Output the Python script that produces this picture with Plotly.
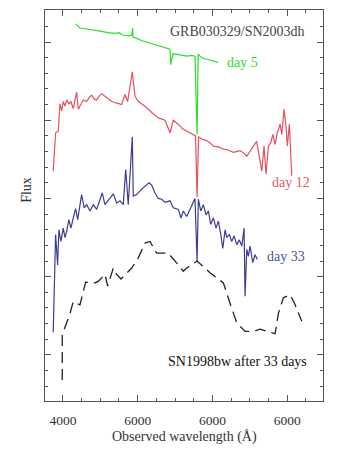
import plotly.graph_objects as go

# Wavelength (Angstrom) and relative flux (arbitrary offset units)
day5_wl = [4174, 4200, 4228, 4300, 4350, 4400, 4495, 4550, 4600, 4700, 4750, 4800, 4897, 4920, 4933, 4937,
           4980, 5050, 5125, 5200, 5299, 5380, 5433, 5442, 5460, 5473, 5550, 5600, 5660, 5720, 5767, 5795,
           5810, 5834, 5880, 5928, 6000, 6075]
day5_fx = [4.23, 4.20, 4.18, 4.17, 4.16, 4.15, 4.14, 4.13, 4.12, 4.11, 4.12, 4.09, 4.08, 4.09, 4.18, 4.06,
           4.05, 4.02, 4.00, 3.98, 3.95, 3.93, 3.91, 3.71, 3.80, 3.85, 3.84, 3.83, 3.82, 3.83, 3.82, 2.82,
           3.85, 3.82, 3.79, 3.78, 3.76, 3.74]

day12_wl = [3870, 3902, 3937, 3960, 3983, 4004, 4027, 4050, 4080, 4107, 4138, 4183, 4205, 4240, 4272, 4317,
            4350, 4384, 4420, 4451, 4485, 4518, 4562, 4600, 4652, 4720, 4786, 4830, 4866, 4928, 4964, 5008,
            5098, 5188, 5276, 5366, 5433, 5477, 5544, 5600, 5660, 5720, 5775, 5795, 5815, 5857, 5924, 5970,
            6013, 6080, 6147, 6210, 6280, 6370, 6420, 6460, 6527, 6592, 6661, 6691, 6718, 6749, 6781, 6808,
            6839, 6869, 6906, 6928, 6959, 6986, 7003, 7030, 7062]
day12_fx = [2.35, 2.84, 2.86, 3.21, 3.12, 3.24, 3.18, 3.26, 3.21, 3.24, 3.15, 3.36, 3.14, 3.20, 3.26, 3.24,
            3.29, 3.32, 3.27, 3.26, 3.31, 3.34, 3.31, 3.28, 3.24, 3.22, 3.20, 3.33, 3.24, 3.62, 3.31, 3.24,
            3.18, 3.10, 3.03, 3.00, 2.84, 3.00, 2.95, 2.89, 2.86, 2.82, 2.80, 2.02, 2.79, 2.76, 2.74, 2.71,
            2.67, 2.66, 2.63, 2.62, 2.59, 2.61, 2.58, 2.54, 2.63, 2.73, 2.35, 2.67, 2.31, 2.67, 2.71, 2.82,
            2.69, 2.84, 2.95, 2.82, 3.14, 2.91, 2.67, 2.95, 2.29]

day33_wl = [3870, 3902, 3929, 3946, 3973, 4004, 4027, 4050, 4080, 4107, 4138, 4170, 4197, 4250, 4285, 4317,
            4362, 4406, 4451, 4495, 4526, 4562, 4629, 4674, 4719, 4763, 4807, 4840, 4874, 4928, 4941, 4987,
            5054, 5098, 5152, 5188, 5232, 5276, 5322, 5366, 5433, 5477, 5544, 5580, 5611, 5656, 5701, 5767,
            5795, 5812, 5844, 5879, 5915, 5946, 5978, 6013, 6049, 6080, 6112, 6139, 6170, 6192, 6227, 6259,
            6290, 6326, 6361, 6393, 6424, 6437, 6460, 6481, 6504, 6540, 6571, 6602]
day33_fx = [0.29, 1.54, 1.15, 1.60, 1.45, 1.62, 1.50, 1.58, 1.73, 1.62, 1.75, 1.87, 1.73, 2.05, 1.88, 1.92,
            1.84, 1.92, 1.86, 1.97, 2.07, 1.92, 2.01, 2.06, 1.94, 1.97, 1.92, 2.37, 1.92, 2.79, 2.03, 2.05,
            2.12, 2.16, 2.20, 2.17, 2.07, 2.00, 1.99, 1.95, 1.97, 1.88, 1.86, 1.75, 1.84, 1.77, 1.86, 2.00,
            1.20, 1.99, 1.84, 1.92, 1.79, 1.84, 1.67, 1.75, 1.62, 1.71, 1.54, 1.36, 1.60, 1.50, 1.54, 1.45,
            1.52, 1.41, 1.47, 1.39, 1.62, 0.75, 1.35, 1.26, 1.39, 1.18, 1.28, 1.22]

sn98_wl = [3991, 3991, 4050, 4094, 4138, 4228, 4304, 4428, 4473, 4562, 4599, 4674, 4719, 4777, 4920, 5008,
           5098, 5165, 5255, 5410, 5544, 5611, 5656, 5795, 5968, 6147, 6236, 6326, 6437, 6548, 6638, 6728,
           6839, 6883, 6950, 7040, 7107, 7196]
sn98_fx = [-0.32, 0.26, 0.41, 0.53, 0.68, 0.64, 0.93, 0.92, 0.94, 1.03, 0.88, 1.11, 1.03, 0.97, 1.11, 1.24,
           1.43, 1.45, 1.30, 1.30, 1.15, 1.07, 1.11, 1.20, 1.05, 0.92, 0.66, 0.41, 0.30, 0.30, 0.33, 0.30,
           0.27, 0.53, 0.73, 0.77, 0.64, 0.43]

x_tickvals = [4000, 5000, 6000, 7000]
x_ticktext = ["4000", "6000", "6000", "6000"]

serif = "Liberation Serif, Times New Roman, serif"
axcol = "#555555"

fig = go.Figure()
fig.add_trace(go.Scatter(x=day5_wl, y=day5_fx, mode="lines",
                         line=dict(color="rgb(40,225,40)", width=1.2), showlegend=False))
fig.add_trace(go.Scatter(x=day12_wl, y=day12_fx, mode="lines",
                         line=dict(color="rgb(232,80,92)", width=1.2), showlegend=False))
fig.add_trace(go.Scatter(x=day33_wl, y=day33_fx, mode="lines",
                         line=dict(color="rgb(60,60,150)", width=1.2), showlegend=False))
fig.add_trace(go.Scatter(x=sn98_wl, y=sn98_fx, mode="lines",
                         line=dict(color="#222222", width=1.3, dash="11px,6px"), showlegend=False))

ann = [
    dict(text="GRB030329/SN2003dh", x=7267, y=4.13, xanchor="right", color="#444444"),
    dict(text="day 5", x=6169, y=3.74, xanchor="left", color="rgb(40,225,40)"),
    dict(text="day 12", x=6772, y=2.21, xanchor="left", color="rgb(232,90,100)"),
    dict(text="day 33", x=6705, y=1.26, xanchor="left", color="rgb(80,80,165)"),
    dict(text="SN1998bw after 33 days", x=5379, y=-0.09, xanchor="left", color="#111111"),
]
for a in ann:
    fig.add_annotation(text=a["text"], x=a["x"], y=a["y"], xref="x", yref="y",
                       xanchor=a["xanchor"], yanchor="middle", showarrow=False,
                       font=dict(family=serif, size=14, color=a["color"]))

fig.add_annotation(text="Observed wavelength (Å)", x=0.5, y=0, xref="paper", yref="paper",
                   yshift=-36, xanchor="center", yanchor="middle", showarrow=False,
                   font=dict(family=serif, size=14, color="#333333"))
fig.add_annotation(text="Flux", x=0, y=0.54, xref="paper", yref="paper", textangle=-90,
                   xshift=-18, xanchor="center", yanchor="middle", showarrow=False,
                   font=dict(family=serif, size=14, color="#333333"))

fig.update_xaxes(range=[3760, 7480], tickmode="array", tickvals=x_tickvals, ticktext=x_ticktext,
                 ticks="inside", ticklen=6, tickcolor=axcol, tickwidth=1, ticklabelstandoff=7,
                 showline=True, linecolor=axcol, linewidth=1, mirror="allticks",
                 showgrid=False, zeroline=False,
                 tickfont=dict(family=serif, size=13.5, color="#333333"),
                 minor=dict(tickmode="linear", tick0=4000, dtick=250, ticks="inside",
                            ticklen=3, tickcolor=axcol, showgrid=False))
fig.update_yaxes(range=[-0.59, 4.41], tickmode="linear", tick0=0, dtick=1,
                 ticks="inside", ticklen=6, tickcolor=axcol, tickwidth=1,
                 showticklabels=False,
                 showline=True, linecolor=axcol, linewidth=1, mirror="allticks",
                 showgrid=False, zeroline=False,
                 minor=dict(tickmode="linear", tick0=0, dtick=0.2, ticks="inside",
                            ticklen=3, tickcolor=axcol, showgrid=False))

fig.update_layout(width=350, height=449, margin=dict(l=45, r=27, t=10, b=48),
                  plot_bgcolor="white", paper_bgcolor="white")

fig.write_html("out.html")
